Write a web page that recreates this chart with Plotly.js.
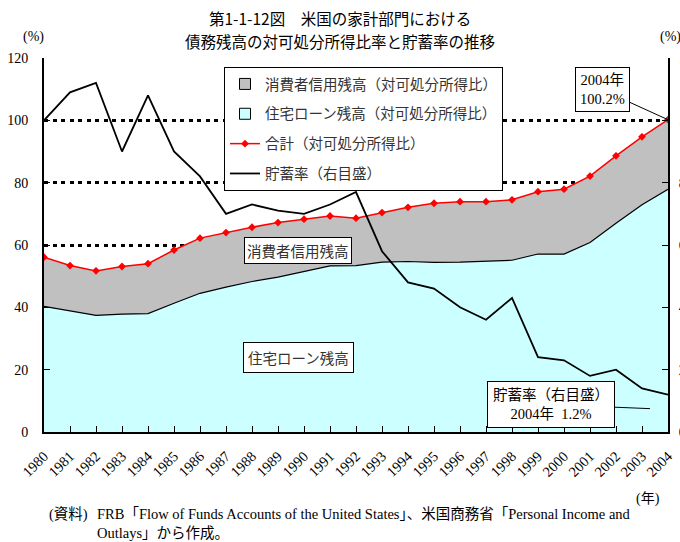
<!DOCTYPE html>
<html>
<head>
<meta charset="utf-8">
<script src="https://cdn.plot.ly/plotly-3.0.1.min.js"></script>
<style>
  html, body { margin: 0; padding: 0; background: #fff; }
  #chart { width: 680px; height: 542px; }
</style>
</head>
<body>
<div id="chart"></div>
<script>
const years = [1980,1981,1982,1983,1984,1985,1986,1987,1988,1989,1990,1991,1992,
               1993,1994,1995,1996,1997,1998,1999,2000,2001,2002,2003,2004];
// housing loan balance / disposable income (%)
const mortgage = [40.3,38.9,37.4,37.8,38.0,41.3,44.5,46.5,48.3,49.7,51.5,53.3,53.4,
                  54.5,54.7,54.4,54.5,54.7,55.1,57.1,57.1,60.8,67.0,72.9,77.9];
// total debt (housing + consumer credit) / disposable income (%)
const total = [56.1,53.4,51.7,53.1,54.0,58.4,62.2,64.0,65.7,67.2,68.3,69.3,68.6,
               70.4,72.1,73.4,73.9,73.9,74.5,77.1,77.9,82.1,88.6,94.7,100.2];
// personal saving rate (%), right axis
const saving = [10.0,10.9,11.2,9.0,10.8,9.0,8.2,7.0,7.3,7.1,7.0,7.3,7.7,
                5.8,4.8,4.6,4.0,3.6,4.3,2.4,2.3,1.8,2.0,1.4,1.2];

const serif = "Liberation Serif, Noto Sans CJK JP, serif";
const goth = "Noto Sans CJK JP, sans-serif";

// plot box in pixels: x 44..668, y 58..432
const L = 44, R = 668, T = 58, B = 432;
const px = x => (x - L) / (R - L), py = y => (B - y) / (B - T);

const GREY = "#C0C0C0", CYAN = "#CCFFFF";

const traces = [
  { x: years, y: mortgage, type: "scatter", mode: "lines", showlegend: false,
    line: { color: "#000", width: 1.2 }, fill: "tozeroy", fillcolor: CYAN },
  { x: years, y: total, type: "scatter", mode: "none", showlegend: false,
    fill: "tonexty", fillcolor: GREY },
  { x: years, y: total, name: "合計（対可処分所得比）", type: "scatter", mode: "lines+markers",
    line: { color: "#FF0000", width: 1.5 }, marker: { color: "#FF0000", size: 6, symbol: "diamond" },
    legendrank: 3, legendgroup: "c" },
  { x: years, y: saving, name: "貯蓄率（右目盛）", type: "scatter", mode: "lines", yaxis: "y2",
    line: { color: "#000", width: 1.8 }, legendrank: 4, legendgroup: "d" },
  // legend swatches for the two areas
  { x: [null], y: [null], name: "消費者信用残高（対可処分所得比）", type: "scatter", mode: "markers",
    marker: { symbol: "square", size: 11, color: GREY, line: { color: "#000", width: 1 } },
    legendrank: 1, legendgroup: "a" },
  { x: [null], y: [null], name: "住宅ローン残高（対可処分所得比）", type: "scatter", mode: "markers",
    marker: { symbol: "square", size: 11, color: CYAN, line: { color: "#000", width: 1 } },
    legendrank: 2, legendgroup: "b" }
];

// text placed in page pixels
const note = (x, y, text, extra) => Object.assign({
  xref: "paper", yref: "paper", x: px(x), y: py(y), yanchor: "middle", text, showarrow: false
}, extra || {});

const layout = {
  width: 680, height: 542,
  paper_bgcolor: "#fff", plot_bgcolor: "rgba(0,0,0,0)",
  margin: { l: L, r: 680 - R, t: T, b: 542 - B },
  font: { family: serif, color: "#000", size: 14 },
  showlegend: true,
  legend: { x: px(224), y: py(67), xanchor: "left", yanchor: "top",
            bgcolor: "#fff", bordercolor: "#000", borderwidth: 1,
            font: { family: goth, size: 14.5, color: "#333" },
            traceorder: "grouped", tracegroupgap: 8 },
  xaxis: { range: [1980, 2004], tickvals: years, ticktext: years.map(String), tickangle: -45,
           ticks: "inside", ticklen: 6, tickcolor: "#000", showline: true, linecolor: "#000", linewidth: 2,
           showgrid: false, zeroline: false, tickfont: { family: serif, size: 14.5 }, ticklabelstandoff: 8 },
  yaxis: { range: [0, 120], dtick: 20, ticks: "inside", ticklen: 6, tickcolor: "#000",
           showline: true, linecolor: "#000", linewidth: 2, zeroline: false,
           showgrid: true, gridcolor: "#000", gridwidth: 3, griddash: "4px,4.5px",
           tickfont: { family: serif, size: 14 }, ticklabelstandoff: 11 },
  yaxis2: { range: [0, 12], dtick: 2, overlaying: "y", side: "right", ticks: "inside", ticklen: 6,
            tickcolor: "#000", showline: true, linecolor: "#000", linewidth: 2, showgrid: false,
            zeroline: false, tickfont: { family: serif, size: 14 }, ticklabelstandoff: 6 },
  annotations: [
    note(340, 18, "第1-1-12図　米国の家計部門における", { font: { family: goth, size: 15.5 } }),
    note(340, 41, "債務残高の対可処分所得比率と貯蓄率の推移", { font: { family: goth, size: 15.5 } }),
    note(21, 37, "(%)"),
    note(683, 37, "(%)"),
    note(662, 499, "(年)"),
    note(47, 514, "(資料)", { xanchor: "left", font: { size: 14.5 } }),
    note(95, 514, "FRB「Flow of Funds Accounts of the United States」、米国商務省「Personal Income and",
         { xanchor: "left", font: { size: 14.5 } }),
    note(95, 533, "Outlays」から作成。", { xanchor: "left", font: { size: 14.5 } }),
    { x: 1989.77, y: 58.1, text: "消費者信用残高", showarrow: false, bgcolor: "#fff",
      bordercolor: "#000", borderwidth: 1, borderpad: 2, font: { family: goth, size: 14.5, color: "#333" } },
    { x: 1989.77, y: 23.8, text: "住宅ローン残高", showarrow: false, bgcolor: "#fff",
      bordercolor: "#000", borderwidth: 1, borderpad: 4, font: { family: goth, size: 14.5, color: "#333" } },
    { x: 2004, y: 100.2, text: "2004年<br>100.2%", showarrow: true, arrowhead: 0, arrowwidth: 1,
      arrowcolor: "#000", ax: -66, ay: -30, bgcolor: "#fff", bordercolor: "#000", borderwidth: 1,
      borderpad: 4, font: { size: 14.5 } },
    { x: 1980 + (650 - L) / 26, y: 7.5, text: "貯蓄率（右目盛）<br>2004年  1.2%", showarrow: true,
      arrowhead: 0, arrowwidth: 1, arrowcolor: "#000", ax: -99, ay: -4, bgcolor: "#fff",
      bordercolor: "#000", borderwidth: 1, borderpad: 5, font: { size: 14.5 } }
  ]
};

Plotly.newPlot("chart", traces, layout, { displayModeBar: false, staticPlot: true });
</script>
</body>
</html>
